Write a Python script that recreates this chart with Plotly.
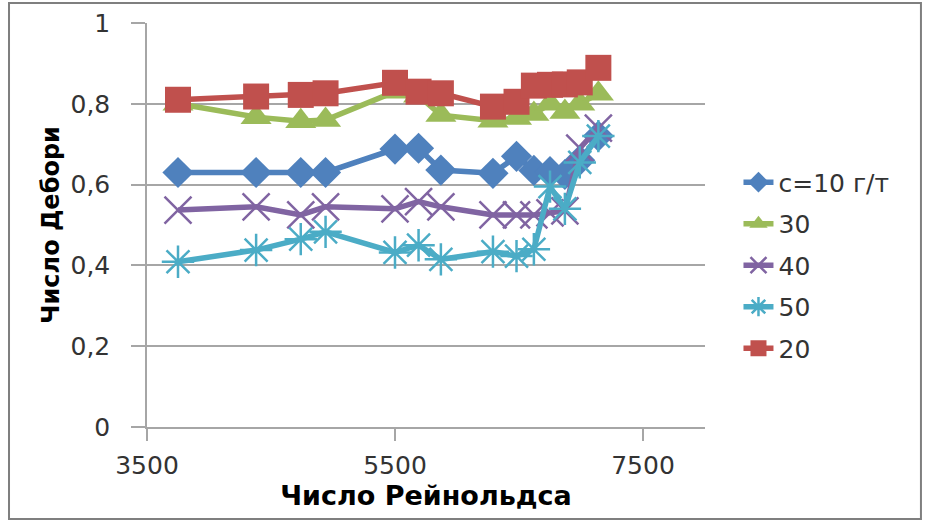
import plotly.graph_objects as go

reynolds = [3750, 4380, 4740, 4940, 5500, 5690, 5870, 6290, 6480, 6620, 6750, 6870, 6990, 7140]

c10 = [0.63, 0.63, 0.63, 0.63, 0.688, 0.69, 0.636, 0.628, 0.67, 0.635, 0.632, 0.625, 0.66, 0.72]
c30 = [0.80, 0.767, 0.757, 0.76, 0.83, 0.82, 0.772, 0.758, 0.765, 0.775, 0.80, 0.78, 0.80, 0.825]
c40 = [0.537, 0.545, 0.525, 0.545, 0.54, 0.558, 0.545, 0.525, 0.525, 0.525, 0.53, 0.535, 0.69, 0.74]
c50 = [0.409, 0.438, 0.465, 0.483, 0.432, 0.45, 0.415, 0.434, 0.423, 0.44, 0.595, 0.54, 0.655, 0.72]
c20 = [0.81, 0.818, 0.822, 0.826, 0.852, 0.83, 0.826, 0.793, 0.805, 0.845, 0.847, 0.848, 0.853, 0.889]

series_names = ["c=10 г/т", "30", "40", "50", "20"]
x_tickvals = [3500, 5500, 7500]
x_ticktext = ["3500", "5500", "7500"]
y_tickvals = [0, 0.2, 0.4, 0.6, 0.8, 1.0]
y_ticktext = ["0", "0,2", "0,4", "0,6", "0,8", "1"]

styles = [
    dict(color="#4F81BD", symbol="diamond", size=24, lw=0),
    dict(color="#9BBB59", symbol="triangle-up", size=27, lw=0),
    dict(color="#8064A2", symbol="x-thin", size=27, lw=2.5),
    dict(color="#4BACC6", symbol="asterisk", size=27, lw=2.5),
    dict(color="#C0504D", symbol="square", size=26, lw=0),
]

fig = go.Figure()
for i, (name, vals) in enumerate(zip(series_names, [c10, c30, c40, c50, c20])):
    s = styles[i]
    marker = dict(symbol=s["symbol"], size=s["size"], color=s["color"])
    if s["lw"]:
        marker["line"] = dict(color=s["color"], width=s["lw"])
    fig.add_trace(go.Scatter(
        x=reynolds, y=vals, name=name, mode="lines+markers",
        line=dict(color=s["color"], width=5.5),
        marker=marker, legendgroup=name,
    ))

font_family = "DejaVu Sans"
fig.update_layout(
    width=930, height=523,
    margin=dict(l=147, r=225, t=23, b=96, autoexpand=False),
    paper_bgcolor="white", plot_bgcolor="white",
    font=dict(family=font_family, size=25, color="#333333"),
    showlegend=True,
    legend=dict(x=1.06, xanchor="left", y=0.40, yanchor="middle",
                font=dict(size=25, color="#333333"), tracegroupgap=6,
                bgcolor="rgba(0,0,0,0)", itemwidth=30),
    xaxis=dict(range=[3500, 8000], tickvals=x_tickvals, ticktext=x_ticktext,
               showgrid=False, zeroline=False, showline=True, linecolor="#a6a6a6", linewidth=1.5,
               ticks="outside", ticklen=12, tickcolor="#a6a6a6", tickwidth=1.5,
               ticklabelstandoff=3,
               title=dict(text="<b>Число Рейнольдса</b>", font=dict(size=27, color="#000000"), standoff=2)),
    yaxis=dict(range=[0, 1], tickvals=y_tickvals, ticktext=y_ticktext,
               showgrid=True, gridcolor="#a6a6a6", gridwidth=1.5, zeroline=False,
               showline=True, linecolor="#a6a6a6", linewidth=1.5,
               ticks="outside", ticklen=14, tickcolor="#a6a6a6", tickwidth=1.5,
               ticklabelstandoff=16,
               title=dict(text="<b>Число Дебори</b>", font=dict(size=24, color="#000000"), standoff=4)),
)

fig.add_shape(type="rect", xref="paper", yref="paper",
              x0=-0.2473, x1=1.387, y0=-0.2277, y1=1.0495,
              line=dict(color="#7f7f7f", width=2), fillcolor="rgba(0,0,0,0)", layer="below")

fig.write_html("out.html", config={"displayModeBar": False},
               post_script="document.body.style.margin='0';")
